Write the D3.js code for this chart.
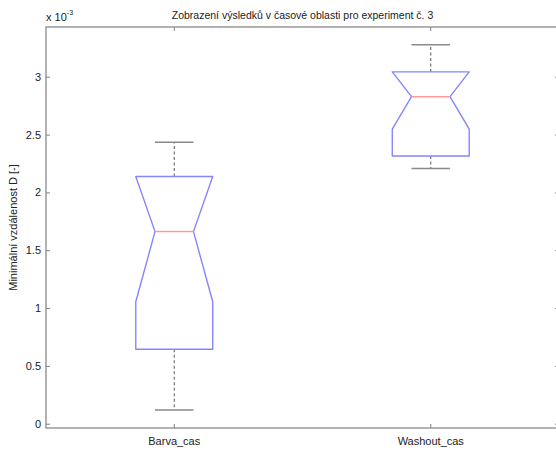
<!DOCTYPE html>
<html>
<head>
<meta charset="utf-8">
<script src="https://cdn.jsdelivr.net/npm/d3@7"></script>
<style>
  body { margin: 0; background: #fff; }
  svg { display: block; font-family: Arial, "Liberation Sans", sans-serif; }
  .axis path, .axis line { stroke: #808080; }
  .axis text { fill: #222; font-size: 11px; }
</style>
</head>
<body>
<div id="chart"></div>
<script>
// data (values in units of 1e-3)
const categories = ["Barva_cas", "Washout_cas"];
const whiskerLo = [0.119, 2.206];
const q1 = [0.644, 2.315];
const notchLo = [1.055, 2.547];
const median = [1.661, 2.828];
const notchHi = [2.267, 3.109];
const q3 = [2.137, 3.042];
const whiskerHi = [2.434, 3.276];
const yTicks = [0, 0.5, 1, 1.5, 2, 2.5, 3];

const width = 556, height = 452;
const margin = { top: 27, right: -3, bottom: 24, left: 46 };

const svg = d3.select("#chart").append("svg")
  .attr("width", width).attr("height", height);

const xScale = d3.scaleBand()
  .domain(categories)
  .range([margin.left, width - margin.right]);

const yScale = d3.scaleLinear()
  .domain([-0.037, 3.43])
  .range([height - margin.bottom, margin.top]);

const x0 = margin.left, x1 = width - margin.right;
const y0 = height - margin.bottom, y1 = margin.top;

// axes (ticks pointing inward, MATLAB style)
svg.append("g").attr("class", "axis")
  .attr("transform", `translate(${x0},0)`)
  .call(d3.axisLeft(yScale).tickValues(yTicks).tickSizeInner(-4).tickSizeOuter(0).tickPadding(5)
    .tickFormat(d3.format("")));
svg.append("g").attr("class", "axis")
  .attr("transform", `translate(${x1},0)`)
  .call(d3.axisRight(yScale).tickValues(yTicks).tickSizeInner(-4).tickSizeOuter(0).tickFormat(""));
svg.append("g").attr("class", "axis")
  .attr("transform", `translate(0,${y0})`)
  .call(d3.axisBottom(xScale).tickSizeInner(-4).tickSizeOuter(0).tickPadding(9));
svg.append("g").attr("class", "axis")
  .attr("transform", `translate(0,${y1})`)
  .call(d3.axisTop(xScale).tickSizeInner(-4).tickSizeOuter(0).tickFormat(""));
svg.selectAll(".axis .domain").remove();

svg.append("rect")
  .attr("x", x0).attr("y", y1)
  .attr("width", x1 - x0).attr("height", y0 - y1)
  .attr("fill", "none").attr("stroke", "#808080").attr("stroke-width", 1.2);

// boxes
const bw = xScale.bandwidth() * 0.3;
const boxes = categories.map((c, i) => ({
  c, wl: whiskerLo[i], q1: q1[i], nl: notchLo[i], med: median[i],
  nh: notchHi[i], q3: q3[i], wh: whiskerHi[i]
}));

const g = svg.selectAll(".box").data(boxes).enter().append("g").attr("class", "box");
const cx = (d) => xScale(d.c) + xScale.bandwidth() / 2;

// whiskers
g.append("line")
  .attr("x1", cx).attr("x2", cx)
  .attr("y1", (d) => yScale(d.q3)).attr("y2", (d) => yScale(d.wh))
  .attr("stroke", "#666").attr("stroke-width", 1.1).attr("stroke-dasharray", "3,2.5");
g.append("line")
  .attr("x1", cx).attr("x2", cx)
  .attr("y1", (d) => yScale(d.q1)).attr("y2", (d) => yScale(d.wl))
  .attr("stroke", "#666").attr("stroke-width", 1.1).attr("stroke-dasharray", "3,2.5");
["wh", "wl"].forEach((k) => {
  g.append("line")
    .attr("x1", (d) => cx(d) - bw / 4).attr("x2", (d) => cx(d) + bw / 4)
    .attr("y1", (d) => yScale(d[k])).attr("y2", (d) => yScale(d[k]))
    .attr("stroke", "#8a8a8a").attr("stroke-width", 1.5);
});

// notched box outline
g.append("path")
  .attr("fill", "none").attr("stroke", "#8585ff").attr("stroke-width", 1.4)
  .attr("stroke-linejoin", "round")
  .attr("d", (d) => {
    const l = cx(d) - bw / 2, r = cx(d) + bw / 2;
    const il = cx(d) - bw / 4, ir = cx(d) + bw / 4;
    const lo = Math.max(d.nl, d.q1), hi = Math.min(d.nh, d.q3);
    const pts = [
      [l, d.q1], [l, lo], [il, d.med], [l, hi], [l, d.q3],
      [r, d.q3], [r, hi], [ir, d.med], [r, lo], [r, d.q1]
    ].map((p) => [p[0], yScale(p[1])]);
    return d3.line()(pts) + "Z";
  });

// median
g.append("line")
  .attr("x1", (d) => cx(d) - bw / 4).attr("x2", (d) => cx(d) + bw / 4)
  .attr("y1", (d) => yScale(d.med)).attr("y2", (d) => yScale(d.med))
  .attr("stroke", "#ff9a9a").attr("stroke-width", 1.5);

// texts
svg.append("text")
  .attr("x", (x0 + x1) / 2).attr("y", 19)
  .attr("text-anchor", "middle")
  .style("font-size", "10.5px").style("fill", "#222")
  .text("Zobrazení výsledků v časové oblasti pro experiment č. 3");

svg.append("text")
  .attr("transform", `translate(17,${(y0 + y1) / 2}) rotate(-90)`)
  .attr("text-anchor", "middle")
  .style("font-size", "11px").style("fill", "#222")
  .text("Minimální vzdálenost D [-]");

const exp = svg.append("text").attr("x", x0).attr("y", 21)
  .style("font-size", "11px").style("fill", "#222");
exp.append("tspan").text("x 10");
exp.append("tspan").attr("dy", -6).style("font-size", "7px").text("-3");
</script>
</body>
</html>
